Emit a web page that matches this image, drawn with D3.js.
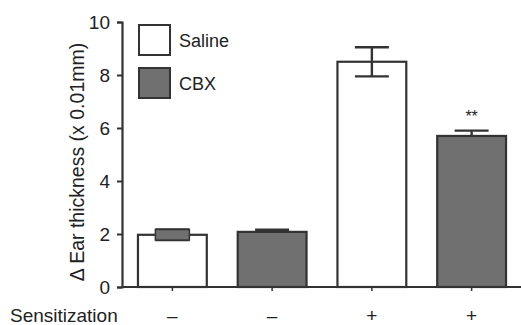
<!DOCTYPE html>
<html>
<head>
<meta charset="utf-8">
<script src="https://cdn.jsdelivr.net/npm/d3@7"></script>
<style>
  body { margin: 0; background: #fff; }
  text { font-family: "Liberation Sans", Arial, sans-serif; fill: #222; }
</style>
</head>
<body>
<div id="chart"></div>
<script>
// data
const groups = ['g1', 'g2', 'g3', 'g4'];
const treatment = ['Saline', 'CBX', 'Saline', 'CBX'];
const means = [1.97, 2.08, 8.5, 5.7];
const errors = [0.2, 0.08, 0.55, 0.2];
const sensitization = ['–', '–', '+', '+'];
const yTicks = [0, 2, 4, 6, 8, 10];
const legendItems = ['Saline', 'CBX'];
const stars = ['', '', '', '**'];

const width = 521;
const height = 325;
const fills = { Saline: '#ffffff', CBX: '#707070' };

const svg = d3.select('#chart')
  .append('svg')
  .attr('width', width)
  .attr('height', height);

const x = d3.scaleBand()
  .domain(groups)
  .range([122, 522])
  .paddingInner(0.31)
  .paddingOuter(0.16);

const y = d3.scaleLinear()
  .domain([0, 10])
  .range([287, 22]);

// y axis
const yAxis = svg.append('g')
  .attr('transform', 'translate(122,0)')
  .call(d3.axisLeft(y).tickValues(yTicks).tickSize(5).tickPadding(7));
yAxis.select('.domain').attr('stroke', '#333').attr('stroke-width', 2.2);
yAxis.selectAll('.tick line').attr('stroke', '#333').attr('stroke-width', 2);
yAxis.selectAll('.tick text')
  .style('font-size', '19px')
  .style('font-family', '"Liberation Sans", Arial, sans-serif')
  .attr('fill', '#222');

svg.append('text')
  .attr('transform', 'translate(84,162) rotate(-90)')
  .attr('text-anchor', 'middle')
  .style('font-size', '19.5px')
  .text('Δ Ear thickness (x 0.01mm)');

const cx = d => x(d) + x.bandwidth() / 2;

function drawBars(filter) {
  svg.selectAll(null)
    .data(groups.filter((d, i) => filter(i)))
    .enter()
    .append('rect')
    .attr('x', d => x(d))
    .attr('y', d => y(means[groups.indexOf(d)]))
    .attr('width', x.bandwidth())
    .attr('height', d => y(0) - y(means[groups.indexOf(d)]))
    .attr('fill', d => fills[treatment[groups.indexOf(d)]])
    .attr('stroke', '#333')
    .attr('stroke-width', 2.2);
}

// white bars first, then error bars, then grey bars cover the lower whisker
drawBars(i => treatment[i] === 'Saline');

const capW = 34;
const eb = svg.selectAll('g.err')
  .data(groups)
  .enter()
  .append('g')
  .attr('class', 'err')
  .attr('stroke', '#333')
  .attr('stroke-width', 2.4);
eb.append('line')
  .attr('x1', cx)
  .attr('x2', cx)
  .attr('y1', (d, i) => y(means[i] + errors[i]))
  .attr('y2', (d, i) => y(means[i] - errors[i]));
eb.append('line')
  .attr('x1', d => cx(d) - capW / 2)
  .attr('x2', d => cx(d) + capW / 2)
  .attr('y1', (d, i) => y(means[i] + errors[i]))
  .attr('y2', (d, i) => y(means[i] + errors[i]));
eb.append('line')
  .attr('x1', d => cx(d) - capW / 2)
  .attr('x2', d => cx(d) + capW / 2)
  .attr('y1', (d, i) => y(means[i] - errors[i]))
  .attr('y2', (d, i) => y(means[i] - errors[i]));

// the small first error box is shaded grey in the figure
svg.append('rect')
  .attr('x', cx('g1') - capW / 2)
  .attr('y', y(means[0] + errors[0]))
  .attr('width', capW)
  .attr('height', y(means[0] - errors[0]) - y(means[0] + errors[0]))
  .attr('fill', '#707070')
  .attr('stroke', '#333')
  .attr('stroke-width', 1.5);

drawBars(i => treatment[i] === 'CBX');

// significance
svg.selectAll('text.star')
  .data(groups)
  .enter()
  .append('text')
  .attr('class', 'star')
  .attr('x', cx)
  .attr('y', (d, i) => y(means[i] + errors[i]) - 9)
  .attr('text-anchor', 'middle')
  .style('font-size', '16px')
  .text((d, i) => stars[i]);

// x axis
const xAxis = svg.append('g')
  .attr('transform', 'translate(0,' + y(0) + ')')
  .call(d3.axisBottom(x).tickSize(4).tickFormat(''));
xAxis.select('.domain').attr('stroke', '#333').attr('stroke-width', 2.2)
  .attr('d', 'M122,0H521');
xAxis.selectAll('.tick line').attr('stroke', '#333').attr('stroke-width', 1.5);

// sensitization row
svg.append('text')
  .attr('x', 10)
  .attr('y', 322)
  .style('font-size', '19px')
  .text('Sensitization');
svg.selectAll('text.sens')
  .data(groups)
  .enter()
  .append('text')
  .attr('class', 'sens')
  .attr('x', cx)
  .attr('y', 322)
  .attr('text-anchor', 'middle')
  .style('font-size', '19px')
  .text((d, i) => sensitization[i]);

// legend
const legend = svg.selectAll('g.legend')
  .data(legendItems)
  .enter()
  .append('g')
  .attr('class', 'legend')
  .attr('transform', (d, i) => 'translate(139,' + (25 + i * 43) + ')');
legend.append('rect')
  .attr('width', 31)
  .attr('height', 30)
  .attr('fill', d => fills[d])
  .attr('stroke', '#333')
  .attr('stroke-width', 2);
legend.append('text')
  .attr('x', 40)
  .attr('y', 22)
  .style('font-size', '18px')
  .text(d => d);
</script>
</body>
</html>
